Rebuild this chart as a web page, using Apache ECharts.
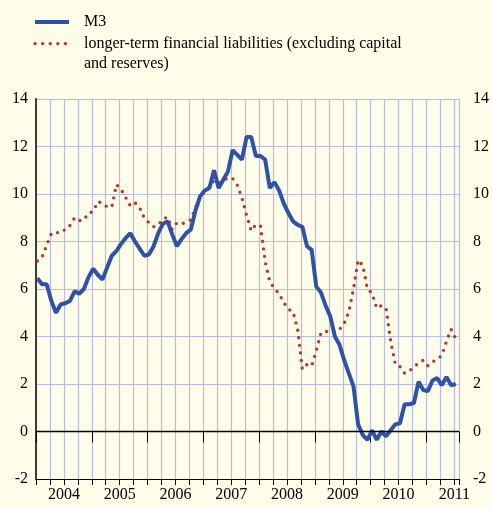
<!DOCTYPE html>
<html>
<head>
<meta charset="utf-8">
<script src="https://cdn.jsdelivr.net/npm/echarts@6/dist/echarts.min.js"></script>
<style>
  html, body { margin: 0; padding: 0; background: #fefde9; }
  #chart { width: 492px; height: 508px; }
</style>
</head>
<body>
<div id="chart"></div>
<script>
// year labels, one per 12 months starting Jan 2004
const years = [2004, 2005, 2006, 2007, 2008, 2009, 2010, 2011];

// monthly annual growth rates, Jan 2004 - Jul 2011
const m3 = [
  6.45, 6.2, 6.2, 5.5, 5.0, 5.35, 5.4, 5.5, 5.9, 5.8, 6.0, 6.5,
  6.85, 6.6, 6.4, 6.9, 7.4, 7.6, 7.9, 8.15, 8.35, 8.0, 7.7, 7.4,
  7.45, 7.8, 8.35, 8.75, 8.85, 8.3, 7.8, 8.1, 8.35, 8.5, 9.3, 9.9,
  10.15, 10.25, 11.0, 10.25, 10.6, 10.95, 11.85, 11.65, 11.45, 12.4, 12.4, 11.6,
  11.6, 11.45, 10.25, 10.5, 10.15, 9.6, 9.2, 8.85, 8.7, 8.62, 7.8, 7.65,
  6.1, 5.85, 5.3, 4.85, 4.0, 3.65, 3.0, 2.45, 1.9, 0.3, -0.15, -0.35,
  0.05, -0.35, 0.0, -0.2, 0.05, 0.3, 0.35, 1.15, 1.15, 1.2, 2.1, 1.75,
  1.7, 2.15, 2.25, 1.95, 2.3, 1.95, 2.0
];
const longTerm = [
  7.18, 7.33, 7.85, 8.33, 8.32, 8.48, 8.48, 8.68, 9.0, 8.88, 8.9, 9.2,
  9.26, 9.68, 9.61, 9.46, 9.45, 10.4, 10.2, 9.85, 9.5, 9.63, 9.42, 8.99,
  8.79, 8.62, 8.7, 8.95, 9.03, 8.5, 8.79, 8.75, 8.8, 8.92, 9.42, 9.9,
  10.1, 10.3, 10.56, 10.45, 10.55, 10.68, 10.66, 10.38, 9.85, 9.1, 8.45, 8.72,
  8.65, 7.15, 6.31, 6.02, 5.8, 5.43, 5.15, 5.04, 4.3, 2.62, 2.82, 2.76,
  3.4, 4.15, 4.23, 4.15, 4.2, 4.3, 4.55, 5.05, 6.0, 7.22, 7.0, 6.0,
  5.82, 5.19, 5.3, 5.2, 3.8, 2.83, 2.73, 2.45, 2.55, 2.7, 2.9, 3.0,
  2.77, 2.93, 3.05, 3.2, 3.8, 4.3, 3.9
];

const m3Name = 'M3';
const ltName = 'longer-term financial liabilities (excluding capital\nand reserves)';

// months counted from Jan 2004; each value sits a little into its month
const monthPos = 0.3;
const toPoints = arr => arr.map((v, i) => [i + monthPos, v]);

const serif = 'Liberation Serif';
const gridColor = '#b9bde3';

const chart = echarts.init(document.getElementById('chart'));
chart.setOption({
  animation: false,
  backgroundColor: '#fefde9',
  textStyle: { fontFamily: serif },
  grid: { left: 36, right: 31, top: 99, bottom: 29 },
  legend: {
    orient: 'vertical',
    left: 33,
    top: 12,
    padding: 0,
    itemGap: -18.4,
    itemWidth: 34,
    itemHeight: 14,
    itemStyle: { color: 'transparent', borderWidth: 0, opacity: 0 },
    lineStyle: { width: 'inherit' },
    textStyle: { fontFamily: serif, fontSize: 16, lineHeight: 20, color: '#000', padding: [0, 0, 0, 10] },
    // blank first line keeps the icon level with the first text line
    formatter: name => (name === ltName ? '\n' + name : name),
    data: [m3Name, ltName]
  },
  xAxis: [
    {
      type: 'value',
      min: 0,
      max: 91,
      interval: 3,
      position: 'bottom',
      axisLine: { onZero: false, lineStyle: { color: '#000', width: 1 } },
      axisTick: { length: 6, lineStyle: { color: '#000', width: 1 } },
      axisLabel: {
        margin: 8,
        fontFamily: serif,
        fontSize: 16,
        color: '#000',
        formatter: v => (v % 12 === 6 ? String(years[(v - 6) / 12]) : '')
      },
      splitLine: { show: true, lineStyle: { color: gridColor, width: 1.2 } }
    },
    {
      type: 'value',
      min: 0,
      max: 91,
      interval: 12,
      position: 'bottom',
      axisLine: { show: false },
      axisTick: { length: 11, lineStyle: { color: '#000', width: 1 } },
      axisLabel: { show: false },
      splitLine: { show: false }
    }
  ],
  yAxis: [
    {
      type: 'value',
      min: -2,
      max: 14,
      interval: 2,
      position: 'left',
      axisLine: { show: true, lineStyle: { color: '#000', width: 1.5 } },
      axisTick: { show: false },
      axisLabel: { margin: 8, fontFamily: serif, fontSize: 16, color: '#000' },
      splitLine: { show: true, lineStyle: { color: gridColor, width: 1.2 } }
    },
    {
      type: 'value',
      min: -2,
      max: 14,
      interval: 2,
      position: 'right',
      axisLine: { show: true, lineStyle: { color: '#3c3c3c', width: 2 } },
      axisTick: { show: false },
      axisLabel: { margin: 14, fontFamily: serif, fontSize: 16, color: '#000' },
      splitLine: { show: false }
    }
  ],
  series: [
    {
      name: ltName,
      type: 'line',
      data: toPoints(longTerm),
      symbol: 'none',
      lineStyle: { color: '#b5372c', width: 3.4, type: [0, 7.6], cap: 'round' },
      itemStyle: { color: '#b5372c' },
      markLine: {
        silent: true,
        symbol: 'none',
        label: { show: false },
        lineStyle: { color: '#000', width: 1.3, type: 'solid' },
        data: [{ yAxis: 0 }]
      }
    },
    {
      name: m3Name,
      type: 'line',
      data: toPoints(m3),
      symbol: 'none',
      lineStyle: { color: '#2f51a8', width: 4 },
      itemStyle: { color: '#2f51a8' }
    }
  ]
});
</script>
</body>
</html>
